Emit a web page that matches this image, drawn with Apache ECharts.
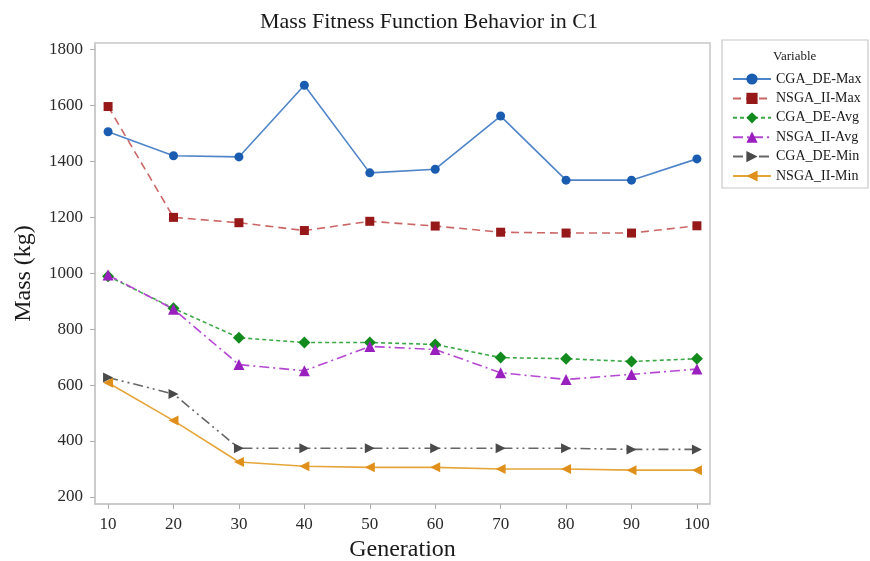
<!DOCTYPE html>
<html>
<head>
<meta charset="utf-8">
<script src="https://cdn.jsdelivr.net/npm/echarts@6/dist/echarts.min.js"></script>
<style>
html,body{margin:0;padding:0;background:#fff;}
#chart{width:870px;height:561px;}
</style>
</head>
<body>
<div id="chart"></div>
<script>
const generations = [10, 20, 30, 40, 50, 60, 70, 80, 90, 100];
const cgaDeMax  = [1505, 1419, 1415, 1671, 1358, 1371, 1561, 1332, 1332, 1408];
const nsgaIIMax = [1595, 1199, 1180, 1152, 1185, 1168, 1146, 1143, 1143, 1169];
const cgaDeAvg  = [989, 874, 769, 752, 752, 745, 698, 694, 684, 694];
const nsgaIIAvg = [993, 871, 673, 651, 738, 727, 644, 620, 638, 657];
const cgaDeMin  = [627, 568, 374, 374, 374, 374, 374, 374, 370, 370];
const nsgaIIMin = [608, 473, 325, 310, 306, 306, 300, 300, 296, 296];
const yTicks = [200, 400, 600, 800, 1000, 1200, 1400, 1600, 1800];
const xTicks = [10, 20, 30, 40, 50, 60, 70, 80, 90, 100];

const serif = '"Liberation Serif", "DejaVu Serif", serif';
const pair = arr => generations.map((g, i) => [g, arr[i]]);

const seriesDefs = [
  { name: 'CGA_DE-Max',  data: cgaDeMax,  symbol: 'circle', size: 9, mark: '#1a5cb0', line: '#4f84c8', dash: 'solid' },
  { name: 'NSGA_II-Max', data: nsgaIIMax, symbol: 'rect', size: 9, mark: '#961818', line: '#cc6666', dash: [8, 5] },
  { name: 'CGA_DE-Avg',  data: cgaDeAvg,  symbol: 'diamond', size: 12, mark: '#138a1e', line: '#3aa845', dash: [4, 3] },
  { name: 'NSGA_II-Avg', data: nsgaIIAvg, symbol: 'triangle', size: 11, mark: '#9a1fbf', line: '#b548d2', dash: [10, 4, 2, 4] },
  { name: 'CGA_DE-Min',  data: cgaDeMin,  symbol: 'path://M0,0L10,5L0,10Z', size: 10, mark: '#4a4a4a', line: '#666666', dash: [10, 4, 2, 4, 2, 4] },
  { name: 'NSGA_II-Min', data: nsgaIIMin, symbol: 'path://M10,0L0,5L10,10Z', size: 10, mark: '#e0901a', line: '#e6a53a', dash: 'solid' }
];

const chart = echarts.init(document.getElementById('chart'), null, { renderer: 'canvas' });

chart.setOption({
  backgroundColor: '#ffffff',
  animation: false,
  title: {
    text: 'Mass Fitness Function Behavior in C1',
    left: 255, top: 6,
    textStyle: { fontFamily: serif, fontSize: 22, fontWeight: 'normal', color: '#1a1a1a' }
  },
  grid: {
    left: 95, right: 160, top: 43, bottom: 57,
    outerBoundsMode: 'none', containLabel: false,
    show: true, borderColor: '#c8c8c8', borderWidth: 1.5, backgroundColor: '#ffffff'
  },
  legend: {
    orient: 'vertical',
    left: 727, top: 67,
    itemWidth: 38, itemHeight: 14, itemGap: 5.4,
    textStyle: { fontFamily: serif, fontSize: 14, lineHeight: 14, color: '#1a1a1a' },
    data: seriesDefs.map(s => s.name)
  },
  graphic: [
    { type: 'rect', shape: { x: 722, y: 40, width: 146, height: 148 },
      style: { fill: 'none', stroke: '#c8c8c8', lineWidth: 1.2 }, z: 0 },
    { type: 'text', left: 773, top: 50,
      style: { text: 'Variable', font: '13px "Liberation Serif", serif', fill: '#1a1a1a' } }
  ],
  xAxis: {
    type: 'value', min: 8, max: 102,
    name: 'Generation', nameLocation: 'middle', nameGap: 34,
    nameTextStyle: { fontFamily: serif, fontSize: 24, color: '#1a1a1a' },
    axisLine: { show: true, lineStyle: { color: '#c8c8c8', width: 1.5 } },
    axisTick: { show: true, length: 5, lineStyle: { color: '#b0b0b0' }, customValues: xTicks },
    axisLabel: { customValues: xTicks, fontFamily: serif, fontSize: 17, color: '#2a2a2a', margin: 12 },
    splitLine: { show: false }
  },
  yAxis: {
    type: 'value', min: 175, max: 1822,
    name: 'Mass (kg)', nameLocation: 'middle', nameGap: 59, nameRotate: 90,
    nameTextStyle: { fontFamily: serif, fontSize: 24, color: '#1a1a1a' },
    axisLine: { show: true, lineStyle: { color: '#c8c8c8', width: 1.5 } },
    axisTick: { show: true, length: 5, lineStyle: { color: '#b0b0b0' }, customValues: yTicks },
    axisLabel: { customValues: yTicks, formatter: v => String(v), fontFamily: serif, fontSize: 17, color: '#2a2a2a', margin: 12 },
    splitLine: { show: false }
  },
  series: seriesDefs.map(s => ({
    name: s.name,
    type: 'line',
    data: pair(s.data),
    symbol: s.symbol,
    symbolSize: s.size,
    showSymbol: true,
    itemStyle: { color: s.mark },
    lineStyle: { color: s.line, width: 1.6, type: s.dash },
    emphasis: { disabled: true }
  }))
});
</script>
</body>
</html>
